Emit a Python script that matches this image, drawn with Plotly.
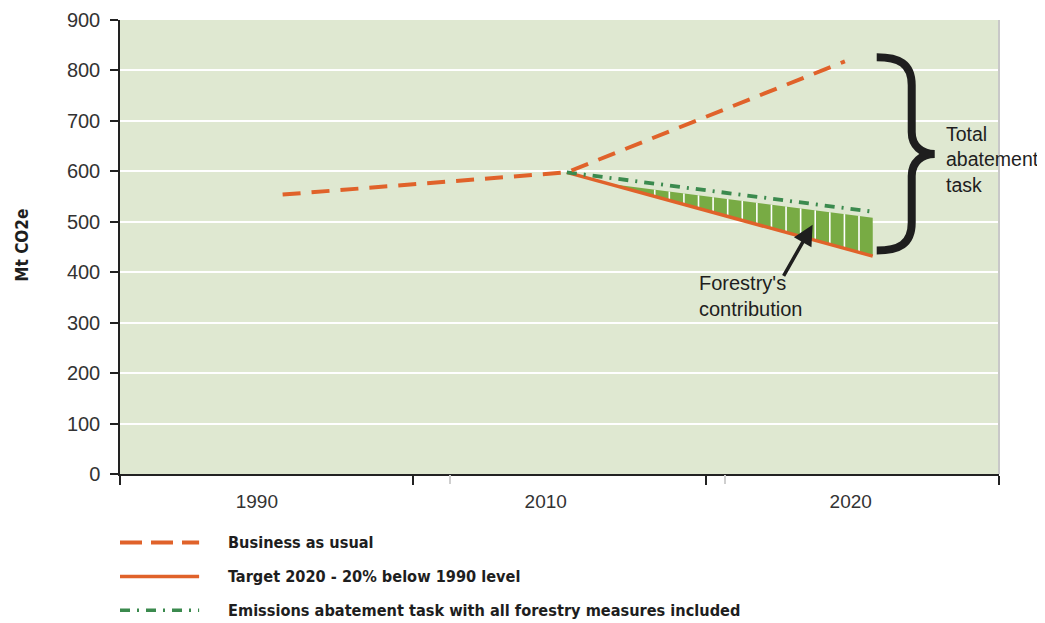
import numpy as np
import plotly.graph_objects as go

# ---- data (schematic x axis made of three equal segments: 0..3) ----
tick_labels = ["1990", "2010", "2020"]
tick_pos = [0.467, 1.453, 2.494]
seg_bounds = [0, 1, 2, 3]
minor_marks = [1.126, 2.066]
y_ticks = [0, 100, 200, 300, 400, 500, 600, 700, 800, 900]

bau_x = [0.555, 1.525, 2.474]
bau_y = [554, 598, 818]
target_x = [1.525, 2.569]
target_y = [598, 432]
forestry_x = [1.525, 2.569]
forestry_y = [598, 520]

legend_labels = [
    "Business as usual",
    "Target 2020 - 20% below 1990 level",
    "Emissions abatement task with all forestry measures included",
]

# ---- colours / styles ----
ORANGE = "#e0622a"
DGREEN = "#3b8a4e"
FILL = "#78ab44"
BG = "#dfe8d1"
INK = "#1e1e1e"
TXT = "#333333"
FONT = "Liberation Sans, Arial, sans-serif"
NARROW = "Liberation Sans Narrow, DejaVu Sans Condensed, Arial Narrow, sans-serif"

# the page body has an 8px margin; compensate so the figure lands like the reference
W, H = 1037, 615
ML, MR, MT, MB = 112, 46, 12, 149
ku = 3 / (W - ML - MR)          # x units per pixel
ky = 900 / (H - MT - MB)        # y units per pixel


def lin(xs, ys, u):
    return np.interp(u, xs, ys)


fig = go.Figure()

# forestry contribution fill (between target and forestry line, slightly below it)
off = 12
diff0 = (forestry_y[1] - forestry_y[0]) - (target_y[1] - target_y[0])
u_start = target_x[0] + off * (target_x[1] - target_x[0]) / diff0
poly_x = [u_start, target_x[1], target_x[1], u_start]
poly_y = [lin(target_x, target_y, u_start), target_y[1],
          forestry_y[1] - off, lin(target_x, target_y, u_start)]
fig.add_trace(go.Scatter(x=poly_x, y=poly_y, fill="toself", fillcolor=FILL,
                         line=dict(width=0), mode="lines", hoverinfo="skip",
                         showlegend=False))

# white column separators (hatching style)
sep_u = 1.825 + 0.0498 * np.arange(15)
sx, sy = [], []
for u in sep_u:
    sx += [u, u, None]
    sy += [lin(target_x, target_y, u), lin(forestry_x, forestry_y, u) - off, None]
fig.add_trace(go.Scatter(x=sx, y=sy, mode="lines", line=dict(color="white", width=1.6),
                         hoverinfo="skip", showlegend=False))

fig.add_trace(go.Scatter(x=target_x, y=target_y, mode="lines", name=legend_labels[1],
                         line=dict(color=ORANGE, width=3.5), showlegend=False))
fig.add_trace(go.Scatter(x=forestry_x, y=forestry_y, mode="lines", name=legend_labels[2],
                         line=dict(color=DGREEN, width=3.8, dash="10px,7px,2px,7px"),
                         showlegend=False))
fig.add_trace(go.Scatter(x=bau_x, y=bau_y, mode="lines", name=legend_labels[0],
                         line=dict(color=ORANGE, width=4, dash="18px,11px"),
                         showlegend=False))

# gray minor ticks via an overlaid axis
fig.add_trace(go.Scatter(x=[0], y=[0], xaxis="x2", mode="markers",
                         marker=dict(opacity=0), hoverinfo="skip", showlegend=False))

# ---- brace ----
x0 = target_x[1] + 4 * ku
xs = x0 + 35 * ku
xc = x0 + 58 * ku
ytop = bau_y[2] + 8
ybot = target_y[1] + 11
ymid = (ytop + ybot) / 2
path = (
    f"M {x0},{ytop} "
    f"C {x0 + 22 * ku},{ytop} {xs},{ytop - 6 * ky} {xs},{ytop - 28 * ky} "
    f"L {xs},{ymid + 22 * ky} "
    f"C {xs},{ymid + 8 * ky} {xs + 10 * ku},{ymid} {xc},{ymid} "
    f"C {xs + 10 * ku},{ymid} {xs},{ymid - 8 * ky} {xs},{ymid - 22 * ky} "
    f"L {xs},{ybot + 28 * ky} "
    f"C {xs},{ybot + 6 * ky} {x0 + 22 * ku},{ybot} {x0},{ybot}"
)
shapes = [
    dict(type="path", path=path, xref="x", yref="y",
         line=dict(color=INK, width=8)),
    dict(type="line", xref="paper", yref="paper", x0=1, x1=1, y0=0, y1=1,
         line=dict(color="#c8c8c8", width=2)),
]

# ---- manual legend ----
leg_y = [-0.1507, -0.2255, -0.3003]
leg_styles = [
    dict(color=ORANGE, width=4, dash="22px,9px"),
    dict(color=ORANGE, width=3.5),
    dict(color=DGREEN, width=3.5, dash="10px,7px,2px,7px"),
]
annotations = []
for yy, st, lab in zip(leg_y, leg_styles, legend_labels):
    shapes.append(dict(type="line", xref="paper", yref="paper", x0=0, x1=0.09,
                       y0=yy, y1=yy, line=st))
    annotations.append(dict(xref="paper", yref="paper", x=0.1206, y=yy, xanchor="left",
                            yanchor="middle", showarrow=False, text=f"<b>{lab}</b>",
                            font=dict(family=NARROW, size=16.2, color=INK)))

annotations += [
    dict(xref="paper", yref="paper", x=-0.1115, y=0.505, textangle=-90, showarrow=False,
         xanchor="center", yanchor="middle",
         text="<b>Mt CO2e</b>", font=dict(family=NARROW, size=17, color=INK)),
    dict(x=2.811, y=623, xref="x", yref="y", xanchor="left", yanchor="middle", align="left",
         showarrow=False, text="Total<br>abatement<br>task",
         font=dict(family=FONT, size=19.5, color=INK)),
    dict(x=1.969, y=352, xref="x", yref="y", xanchor="left", yanchor="middle", align="left",
         showarrow=False, text="Forestry's<br>contribution",
         font=dict(family=FONT, size=20, color=INK)),
    dict(x=2.364, y=494, ax=2.262, ay=390, xref="x", yref="y", axref="x", ayref="y",
         showarrow=True, arrowhead=2, arrowsize=1.15, arrowwidth=3.5, arrowcolor=INK, text=""),
]

fig.update_layout(
    width=W, height=H,
    margin=dict(l=ML, r=MR, t=MT, b=MB, autoexpand=False),
    paper_bgcolor="white", plot_bgcolor=BG,
    font=dict(family=FONT, size=20, color=TXT),
    shapes=shapes, annotations=annotations,
    xaxis=dict(range=[0, 3], tickvals=tick_pos, ticktext=tick_labels, ticks="",
               automargin=False,
               showgrid=False, zeroline=False, showline=True, linecolor="#222222",
               linewidth=2, tickfont=dict(size=19, color=TXT), ticklabelstandoff=9,
               minor=dict(tickvals=seg_bounds, ticks="outside", ticklen=9,
                          tickcolor="#222222", tickwidth=2, showgrid=False)),
    xaxis2=dict(range=[0, 3], overlaying="x", anchor="y", side="bottom",
                automargin=False,
                tickvals=minor_marks, ticktext=["", ""], ticks="outside", ticklen=9,
                tickcolor="#cfcfcf", tickwidth=2, showgrid=False, zeroline=False,
                showline=False),
    yaxis=dict(range=[0, 900], tickvals=y_ticks, ticks="outside", ticklen=8,
               automargin=False,
               tickcolor="#222222", tickwidth=1.5, showline=True, linecolor="#222222",
               linewidth=1.5, showgrid=True, gridcolor="white", gridwidth=1.5,
               zeroline=False, tickfont=dict(size=20, color=TXT), ticklabelstandoff=6),
)

fig.write_html("out.html")
